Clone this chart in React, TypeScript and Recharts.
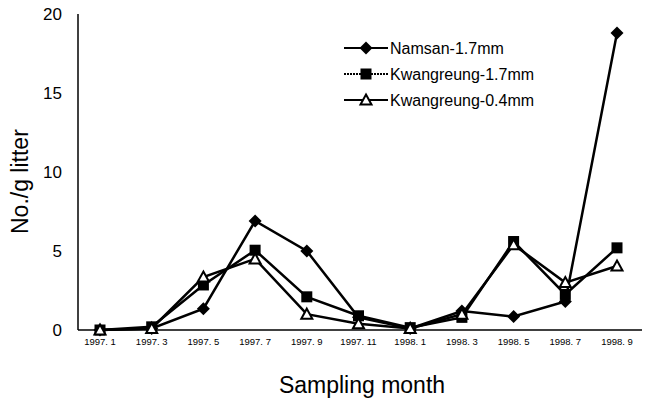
import { CartesianGrid, Line, LineChart, XAxis, YAxis } from "recharts";

const months = [
  "1997. 1", "1997. 3", "1997. 5", "1997. 7", "1997. 9", "1997. 11",
  "1998. 1", "1998. 3", "1998. 5", "1998. 7", "1998. 9",
];
const namsan17 = [0, 0.1, 1.35, 6.9, 5.0, 0.8, 0.1, 1.2, 0.85, 1.8, 18.8];
const kwang17 = [0, 0.2, 2.85, 5.05, 2.1, 0.9, 0.15, 0.8, 5.6, 2.25, 5.2];
const kwang04 = [0, 0.1, 3.35, 4.5, 1.0, 0.4, 0.1, 1.0, 5.4, 3.0, 4.05];
const yTicks = [0, 5, 10, 15, 20];

const FONT = "'Liberation Sans', Arial, sans-serif";

const data = months.map((m, i) => ({
  month: m,
  namsan17: namsan17[i],
  kwang17: kwang17[i],
  kwang04: kwang04[i],
}));

type DotProps = { cx?: number; cy?: number; index?: number };

const Diamond = ({ cx = 0, cy = 0, index }: DotProps) => (
  <path key={index} d={`M${cx},${cy - 6.5}L${cx + 6.5},${cy}L${cx},${cy + 6.5}L${cx - 6.5},${cy}Z`} fill="#000" />
);
const Square = ({ cx = 0, cy = 0, index }: DotProps) => (
  <rect key={index} x={cx - 5.5} y={cy - 5.5} width={11} height={11} fill="#000" />
);
const Triangle = ({ cx = 0, cy = 0, index }: DotProps) => (
  <path key={index} d={`M${cx},${cy - 5.5}L${cx + 5.5},${cy + 4.5}L${cx - 5.5},${cy + 4.5}Z`} fill="#fff" stroke="#000" strokeWidth={2} />
);

const legendItems = [
  { label: "Namsan-1.7mm", Marker: Diamond, dash: undefined },
  { label: "Kwangreung-1.7mm", Marker: Square, dash: "2 1" },
  { label: "Kwangreung-0.4mm", Marker: Triangle, dash: undefined },
];

export default function App() {
  return (
    <div style={{ position: "absolute", left: 0, top: 0, width: 646, height: 398, background: "#fff" }}>
      <LineChart width={646} height={398} data={data} margin={{ top: 14, right: 4, bottom: 0, left: 0 }}>
        <CartesianGrid horizontal={false} vertical={false} />
        <XAxis
          dataKey="month"
          height={68}
          interval={0}
          padding={{ left: 22, right: 25 }}
          tickLine={false}
          axisLine={{ stroke: "#000", strokeWidth: 1.5 }}
          tick={{ fill: "#000", fontSize: 9.5, fontFamily: FONT }}
          tickMargin={2}
          label={{ value: "Sampling month", position: "insideBottom", offset: 5, fill: "#000", fontSize: 23, fontFamily: FONT, dx: 2 }}
        />
        <XAxis xAxisId="top" orientation="top" dataKey="month" height={0} tick={false} tickLine={false} axisLine={{ stroke: "#000" }} />
        <YAxis
          width={78}
          domain={[0, 20]}
          ticks={yTicks}
          tickLine={false}
          axisLine={{ stroke: "#000", strokeWidth: 1.5 }}
          tick={{ fill: "#000", fontSize: 17, fontFamily: FONT }}
          tickMargin={10}
          label={{ value: "No./g litter", angle: -90, position: "insideLeft", offset: 20, fill: "#000", fontSize: 23, fontFamily: FONT, dy: 62 }}
        />
        <YAxis yAxisId="right" orientation="right" width={0} tick={false} tickLine={false} axisLine={{ stroke: "#000" }} />
        <Line dataKey="namsan17" stroke="#000" strokeWidth={2.5} dot={Diamond} isAnimationActive={false} />
        <Line dataKey="kwang17" stroke="#000" strokeWidth={2.5} dot={Square} isAnimationActive={false} />
        <Line dataKey="kwang04" stroke="#000" strokeWidth={2.5} dot={Triangle} isAnimationActive={false} />
      </LineChart>
      <svg style={{ position: "absolute", left: 340, top: 36, width: 200, height: 80 }}>
        {legendItems.map((it, i) => {
          const y = 12 + i * 26;
          return (
            <g key={it.label}>
              <line x1={4} x2={48} y1={y} y2={y} stroke="#000" strokeWidth={2} strokeDasharray={it.dash} />
              <it.Marker cx={26} cy={y} />
              <text x={50} y={y + 5.5} fontSize={16} fontFamily={FONT} fill="#000">{it.label}</text>
            </g>
          );
        })}
      </svg>
    </div>
  );
}
